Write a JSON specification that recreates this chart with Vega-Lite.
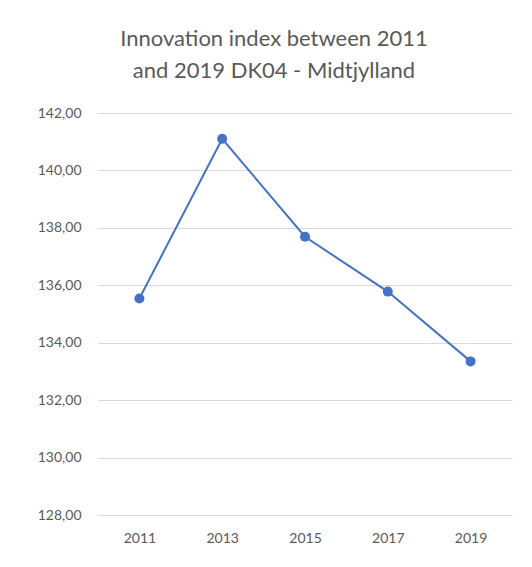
{
  "$schema": "https://vega.github.io/schema/vega-lite/v6.json",
  "width": 414,
  "height": 402,
  "autosize": {"type": "none"},
  "padding": {"left": 98, "top": 113, "right": 20, "bottom": 52},
  "background": "white",
  "title": {
    "text": ["Innovation index between 2011", "and 2019 DK04 - Midtjylland"],
    "font": "Lato",
    "fontSize": 22,
    "fontWeight": "normal",
    "color": "#595959",
    "anchor": "middle",
    "dx": -31,
    "offset": 23,
    "lineHeight": 32
  },
  "data": {
    "values": [
      {"year": "2011", "value": 135.54},
      {"year": "2013", "value": 141.10},
      {"year": "2015", "value": 137.69},
      {"year": "2017", "value": 135.78},
      {"year": "2019", "value": 133.35}
    ]
  },
  "encoding": {
    "x": {
      "field": "year",
      "type": "ordinal",
      "scale": {"type": "point", "padding": 0.5},
      "axis": {
        "title": null,
        "labelAngle": 0,
        "ticks": false,
        "domain": false,
        "grid": false,
        "labelPadding": 16,
        "labelFont": "Lato",
        "labelFontSize": 14,
        "labelColor": "#595959"
      }
    },
    "y": {
      "field": "value",
      "type": "quantitative",
      "scale": {"domain": [128, 142], "nice": false, "zero": false},
      "axis": {
        "title": null,
        "values": [128, 130, 132, 134, 136, 138, 140, 142],
        "labelExpr": "replace(format(datum.value, '.2f'), '.', ',')",
        "ticks": false,
        "domain": false,
        "grid": true,
        "gridColor": "#d9d9d9",
        "gridWidth": 1,
        "labelPadding": 17,
        "labelFont": "Lato",
        "labelFontSize": 14,
        "labelColor": "#595959"
      }
    }
  },
  "layer": [
    {"mark": {"type": "line", "color": "#4472C4", "strokeWidth": 2}},
    {"mark": {"type": "point", "filled": true, "opacity": 1, "color": "#4472C4", "size": 100}}
  ],
  "config": {"view": {"stroke": null}}
}
